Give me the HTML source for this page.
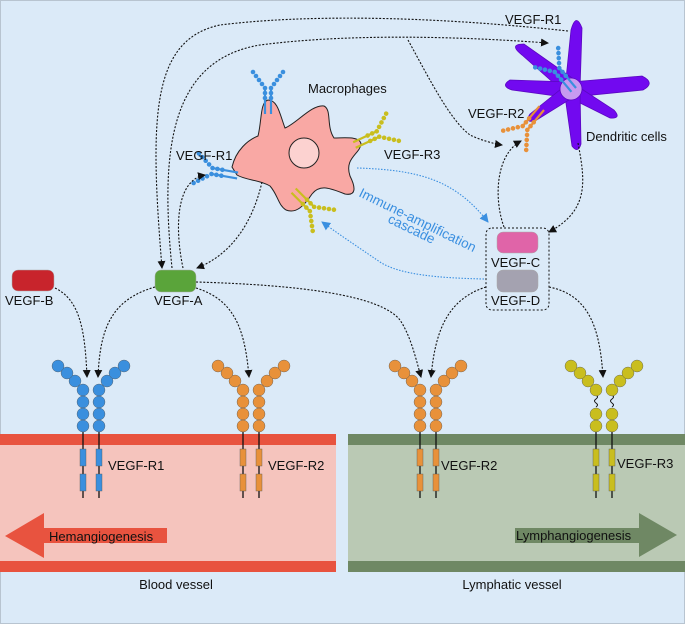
<!DOCTYPE html>
<html><head><meta charset="utf-8"><style>
html,body{margin:0;padding:0;background:#dbeaf8}
svg{display:block}
text{font-family:"Liberation Sans",sans-serif;fill:#111}
</style></head><body>
<svg width="685" height="624" viewBox="0 0 685 624" xmlns="http://www.w3.org/2000/svg">
<defs>
<marker id="ah" markerWidth="8" markerHeight="8" refX="7" refY="4" orient="auto" markerUnits="userSpaceOnUse"><path d="M0,0 L8,4 L0,8 Z" fill="#111"/></marker>
<marker id="ab" markerWidth="9" markerHeight="9" refX="8" refY="4.5" orient="auto" markerUnits="userSpaceOnUse"><path d="M0,0 L9,4.5 L0,9 Z" fill="#3a8fe0"/></marker>
<g id="rec">
<line x1="-8" y1="36" x2="-8" y2="108" stroke="#111" stroke-width="1.3"/>
<line x1="8" y1="36" x2="8" y2="108" stroke="#111" stroke-width="1.3"/>
<g fill="currentColor" stroke="#555" stroke-width="0.4">
<rect x="-11" y="59" width="6" height="17"/><rect x="-11" y="84" width="6" height="17"/>
<rect x="5" y="59" width="6" height="17"/><rect x="5" y="84" width="6" height="17"/>
<circle cx="-8" cy="0" r="6"/><circle cx="-8" cy="12" r="6"/><circle cx="-8" cy="24" r="6"/><circle cx="-8" cy="36" r="6"/>
<circle cx="8" cy="0" r="6"/><circle cx="8" cy="12" r="6"/><circle cx="8" cy="24" r="6"/><circle cx="8" cy="36" r="6"/>
<circle cx="-16" cy="-9" r="6"/><circle cx="-24" cy="-17" r="6"/><circle cx="-33" cy="-24" r="6"/>
<circle cx="16" cy="-9" r="6"/><circle cx="24" cy="-17" r="6"/><circle cx="33" cy="-24" r="6"/>
</g></g>
<g id="rec3">
<line x1="-8" y1="24" x2="-8" y2="108" stroke="#111" stroke-width="1.3"/>
<line x1="8" y1="24" x2="8" y2="108" stroke="#111" stroke-width="1.3"/>
<path d="M-8,5 q3,2 0,4 q-3,2 0,4 q3,2 0,4" fill="none" stroke="#111"/>
<path d="M8,5 q3,2 0,4 q-3,2 0,4 q3,2 0,4" fill="none" stroke="#111"/>
<g fill="currentColor" stroke="#555" stroke-width="0.4">
<rect x="-11" y="59" width="6" height="17"/><rect x="-11" y="84" width="6" height="17"/>
<rect x="5" y="59" width="6" height="17"/><rect x="5" y="84" width="6" height="17"/>
<circle cx="-8" cy="0" r="6"/><circle cx="-8" cy="24" r="6"/><circle cx="-8" cy="36" r="6"/>
<circle cx="8" cy="0" r="6"/><circle cx="8" cy="24" r="6"/><circle cx="8" cy="36" r="6"/>
<circle cx="-16" cy="-9" r="6"/><circle cx="-24" cy="-17" r="6"/><circle cx="-33" cy="-24" r="6"/>
<circle cx="16" cy="-9" r="6"/><circle cx="24" cy="-17" r="6"/><circle cx="33" cy="-24" r="6"/>
</g></g>
<g id="sr">
<g stroke="currentColor" stroke-width="2.2" fill="none">
<line x1="-3" y1="0" x2="-3" y2="26"/><line x1="3" y1="0" x2="3" y2="26"/>
</g>
<g fill="currentColor">
<circle cx="-3" cy="0" r="2.3"/><circle cx="-3" cy="5" r="2.3"/><circle cx="-3" cy="10" r="2.3"/>
<circle cx="3" cy="0" r="2.3"/><circle cx="3" cy="5" r="2.3"/><circle cx="3" cy="10" r="2.3"/>
<circle cx="-6" cy="-4" r="2.3"/><circle cx="-9" cy="-8" r="2.3"/><circle cx="-12" cy="-12" r="2.3"/><circle cx="-15" cy="-16" r="2.3"/>
<circle cx="6" cy="-4" r="2.3"/><circle cx="9" cy="-8" r="2.3"/><circle cx="12" cy="-12" r="2.3"/><circle cx="15" cy="-16" r="2.3"/>
</g></g>
</defs>
<rect x="0.5" y="0.5" width="684" height="623" fill="#dbeaf8" stroke="#b8c4d0"/>

<rect x="0" y="434" width="336" height="138" fill="#f5c4bd"/>
<rect x="0" y="434" width="336" height="11" fill="#e8533f"/>
<rect x="0" y="561" width="336" height="11" fill="#e8533f"/>
<rect x="348" y="434" width="337" height="138" fill="#bac9b4"/>
<rect x="348" y="434" width="337" height="11" fill="#6f8864"/>
<rect x="348" y="561" width="337" height="11" fill="#6f8864"/>
<path d="M5,536 L44,513 L44,528 L167,528 L167,543 L44,543 L44,558 Z" fill="#e8533f"/>
<text x="49" y="541" font-size="13">Hemangiogenesis</text>
<path d="M515,528 L639,528 L639,513 L677,535 L639,557 L639,543 L515,543 Z" fill="#6f8864"/>
<text x="516" y="540" font-size="13">Lymphangiogenesis</text>
<text x="176" y="589" font-size="13" text-anchor="middle">Blood vessel</text>
<text x="512" y="589" font-size="13" text-anchor="middle">Lymphatic vessel</text>

<use href="#rec" x="91" y="390" style="color:#3a8fde"/>
<use href="#rec" x="251" y="390" style="color:#e8913a"/>
<use href="#rec" x="428" y="390" style="color:#e8913a"/>
<use href="#rec3" x="604" y="390" style="color:#c9be1e"/>
<text x="108" y="470" font-size="13">VEGF-R1</text>
<text x="268" y="470" font-size="13">VEGF-R2</text>
<text x="441" y="470" font-size="13">VEGF-R2</text>
<text x="617" y="468" font-size="13">VEGF-R3</text>

<rect x="12" y="270" width="42" height="21" rx="6" fill="#c8242c" stroke="#aaa" stroke-width="0.5"/>
<text x="5" y="305" font-size="13">VEGF-B</text>
<rect x="155" y="270" width="41" height="22" rx="6" fill="#5aa43a" stroke="#aaa" stroke-width="0.5"/>
<text x="154" y="305" font-size="13">VEGF-A</text>
<rect x="486" y="228" width="63" height="82" rx="6" fill="none" stroke="#111" stroke-dasharray="2,2"/>
<rect x="497" y="232" width="41" height="21" rx="6" fill="#e064a8" stroke="#aaa" stroke-width="0.5"/>
<text x="491" y="267" font-size="13">VEGF-C</text>
<rect x="497" y="270" width="41" height="22" rx="6" fill="#a4a2b0" stroke="#aaa" stroke-width="0.5"/>
<text x="491" y="305" font-size="13">VEGF-D</text>

<path d="M232,167 C236,150 248,140 258,136 C262,120 260,102 268,100 C278,100 280,115 285,128 C296,124 312,104 324,106 C332,110 326,126 334,138 C345,138 360,136 361,144 C360,154 344,158 350,176 C356,188 356,196 345,194 C330,188 320,184 312,194 C304,206 296,214 286,210 C278,205 278,195 270,186 C260,180 245,180 237,175 Z" fill="#f9a8a4" stroke="#222" stroke-width="1"/>
<circle cx="304" cy="153" r="15" fill="#fcd2d0" stroke="#222" stroke-width="1"/>
<use href="#sr" transform="translate(268,88)" style="color:#3a8fde"/>
<use href="#sr" transform="translate(212,171) rotate(-80)" style="color:#3a8fde"/>
<use href="#sr" transform="translate(378,134) rotate(65)" style="color:#c9be1e"/>
<use href="#sr" transform="translate(312,209) rotate(-45) scale(1,-1)" style="color:#c9be1e"/>
<text x="308" y="93" font-size="13">Macrophages</text>
<text x="176" y="160" font-size="13">VEGF-R1</text>
<text x="384" y="159" font-size="13">VEGF-R3</text>

<g fill="#7209f0" stroke="#5a08c0" stroke-width="0.8">
<path d="M565,89 L571,30 Q576,12 582,28 L580,89 Z"/>
<path d="M566,94 L522,55 Q508,44 524,44 L578,82 Z"/>
<path d="M571,82 L510,80 Q500,86 512,90 L571,98 Z"/>
<path d="M571,82 L642,76 Q656,83 643,90 L572,97 Z"/>
<path d="M574,84 L614,110 Q622,119 610,118 L566,96 Z"/>
<path d="M564,89 L572,146 Q578,154 581,144 L580,89 Z"/>
<path d="M566,85 L530,114 Q524,123 535,121 L577,95 Z"/>
</g>
<circle cx="571" cy="89" r="11" fill="#c79af0" stroke="#5a08c0" stroke-width="0.8"/>
<use href="#sr" transform="translate(557,70) rotate(-40)" style="color:#3a8fde"/>
<use href="#sr" transform="translate(525,128) rotate(-140)" style="color:#e8913a"/>
<text x="505" y="24" font-size="13">VEGF-R1</text>
<text x="468" y="118" font-size="13">VEGF-R2</text>
<text x="586" y="141" font-size="13">Dendritic cells</text>

<g fill="none" stroke="#111" stroke-width="1.1" stroke-dasharray="2,1.6">
<path d="M568,31 C420,15 300,15 220,25 C150,40 150,120 162,268" marker-end="url(#ah)"/>
<path d="M172,268 C160,150 170,60 260,45 C360,32 480,38 548,43" marker-end="url(#ah)"/>
<path d="M408,40 C430,80 450,120 470,135 C480,140 495,144 502,145" marker-end="url(#ah)"/>
<path d="M183,268 C175,230 175,180 205,175" marker-end="url(#ah)"/>
<path d="M262,182 C252,225 230,255 197,268" marker-end="url(#ah)"/>
<path d="M504,227 C494,200 495,155 521,141" marker-end="url(#ah)"/>
<path d="M578,143 C585,180 590,210 549,232" marker-end="url(#ah)"/>
<path d="M55,288 C80,300 85,330 87,377" marker-end="url(#ah)"/>
<path d="M155,287 C110,300 100,330 98,377" marker-end="url(#ah)"/>
<path d="M196,288 C235,300 245,330 249,377" marker-end="url(#ah)"/>
<path d="M196,282 C300,285 380,295 400,320 C410,335 415,355 421,377" marker-end="url(#ah)"/>
<path d="M486,287 C445,300 435,335 431,377" marker-end="url(#ah)"/>
<path d="M549,287 C590,295 600,330 603,377" marker-end="url(#ah)"/>
</g>
<g fill="none" stroke="#3a8fe0" stroke-width="1.1" stroke-dasharray="1.5,1.5">
<path d="M357,168 C420,170 455,180 488,222" marker-end="url(#ab)"/>
<path d="M484,279 C440,278 400,275 380,262 C355,245 340,235 322,222" marker-end="url(#ab)"/>
</g>
<text transform="translate(358,196) rotate(26)" font-size="13.5" style="fill:#3a8fe0">Immune-amplification</text>
<text transform="translate(387,222) rotate(26)" font-size="13.5" style="fill:#3a8fe0">cascade</text>
</svg>
</body></html>
